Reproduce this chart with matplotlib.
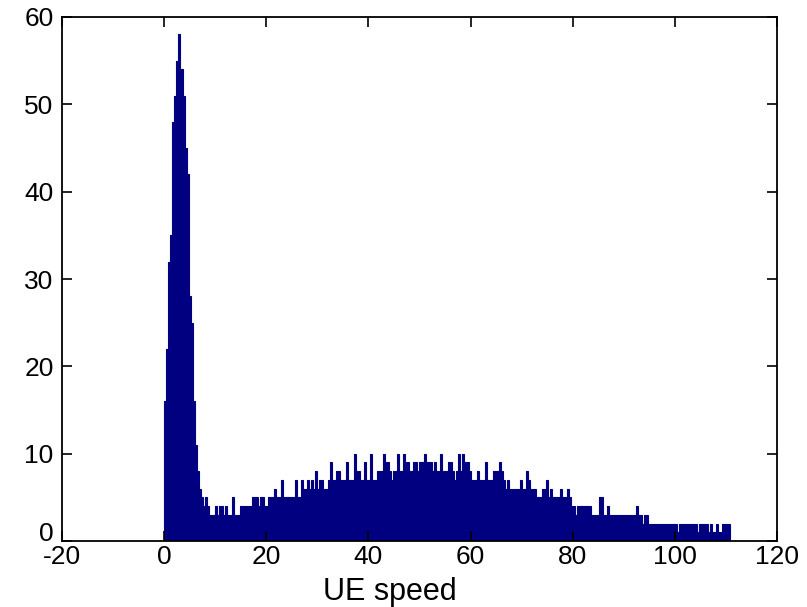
import numpy as np
import matplotlib.pyplot as plt
import matplotlib.transforms as mtransforms

# histogram of UE speed, bins of width 0.4 starting at 0
bin_width = 0.4
counts = [
    # 0-17: low-speed peak
    16, 22, 32, 35, 48, 51, 55, 58, 54, 51, 45, 42, 28, 25, 16, 11, 8, 6,
    # 18-69
    5, 4, 5, 4, 3, 3, 3, 4, 3, 4, 4, 3, 4, 3, 3, 5, 3, 3, 3, 4,
    4, 4, 4, 4, 4, 5, 5, 5, 4, 5, 5, 4, 4, 5, 5, 5, 6, 5, 5, 7,
    5, 5, 5, 5, 5, 5, 7, 5, 5, 7, 6, 6,
    # 70-121
    7, 6, 7, 6, 8, 6, 7, 7, 6, 6, 7, 9, 7, 7, 8, 8, 7, 7, 7, 9,
    7, 7, 7, 10, 8, 8, 7, 7, 9, 7, 7, 10, 7, 7, 8, 8, 8, 10, 9, 9,
    8, 7, 8, 8, 10, 8, 8, 10, 9, 9, 8, 8,
    # 122-173
    9, 9, 8, 9, 9, 10, 9, 9, 9, 8, 9, 8, 8, 10, 8, 8, 8, 9, 9, 8,
    7, 8, 10, 8, 10, 9, 9, 8, 7, 7, 7, 8, 7, 7, 7, 9, 7, 7, 7, 8,
    8, 8, 9, 8, 7, 6, 7, 6, 6, 6, 6, 6,
    # 174-225
    7, 6, 6, 8, 7, 6, 6, 6, 5, 5, 5, 6, 6, 7, 5, 6, 5, 5, 5, 5,
    6, 5, 5, 6, 5, 4, 4, 3, 4, 4, 4, 4, 4, 4, 4, 3, 3, 3, 3, 5,
    5, 3, 3, 4, 3, 3, 3, 3, 3, 3, 3, 3,
    # 226-276
    3, 3, 3, 3, 3, 4, 3, 3, 2, 3, 3, 2, 2, 2, 2, 2, 2, 2, 2, 2,
    2, 2, 2, 2, 2, 1, 2, 2, 2, 2, 2, 2, 2, 2, 2, 1, 2, 2, 2, 2,
    1, 2, 1, 1, 2, 1, 1, 2, 2, 2, 2,
]
counts = np.array(counts)
edges = np.arange(len(counts) + 1) * bin_width

x_ticks = [-20, 0, 20, 40, 60, 80, 100, 120]
y_ticks = [0, 10, 20, 30, 40, 50, 60]

plt.rcParams['font.family'] = ['Liberation Sans', 'DejaVu Sans']
plt.rcParams['axes.unicode_minus'] = False

fig = plt.figure(figsize=(8.07, 6.07), dpi=100)
ax = fig.add_axes([0.0768, 0.1087, 0.886, 0.8633])

# filled step outline, like matlab's hist patch
ax.stairs(counts, edges, fill=True, color='#000080', linewidth=0)
ax.stairs(counts, edges, color='#000080', linewidth=0.8)

ax.set_xlim(-20, 120)
ax.set_ylim(0, 60)
ax.set_xticks(x_ticks)
ax.set_yticks(y_ticks)
ax.tick_params(direction='in', length=7, width=1.2, labelsize=19,
               top=True, right=True)
ax.tick_params(axis='x', pad=3)
ax.tick_params(axis='y', pad=6)
for s in ax.spines.values():
    s.set_linewidth(1.3)

# matlab lifts the bottom y label a little so it clears the x labels
fig.canvas.draw()
zero_lbl = ax.get_yticklabels()[0]
zero_lbl.set_transform(zero_lbl.get_transform() +
                       mtransforms.ScaledTranslation(0, 0.1, fig.dpi_scale_trans))

ax.set_xlabel('UE speed', fontsize=22, labelpad=0)
ax.xaxis.set_label_coords(0.459, -0.068)

fig.savefig('out.png', dpi=100)
